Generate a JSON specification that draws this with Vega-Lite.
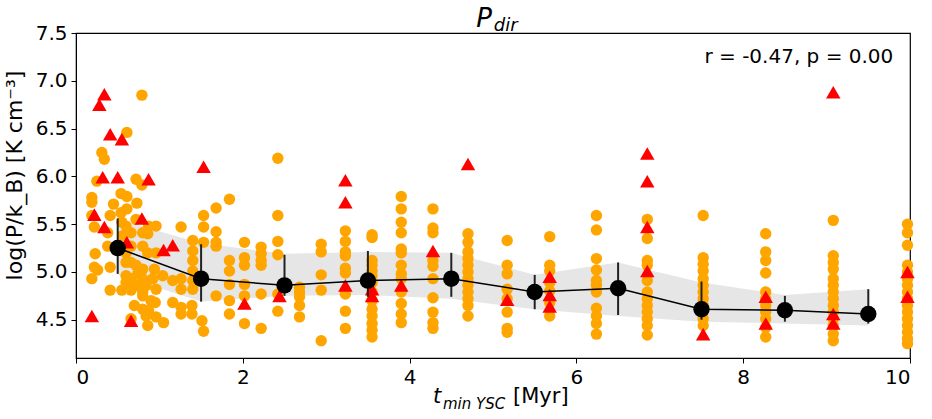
{
  "$schema": "https://vega.github.io/schema/vega-lite/v6.json",
  "width": 834,
  "height": 325,
  "autosize": {"type": "none"},
  "padding": {"left": 76, "top": 33, "right": 22, "bottom": 61},
  "background": "white",
  "config": {
    "font": "DejaVu Sans",
    "view": {"stroke": "black", "strokeWidth": 1.2},
    "axis": {"grid": false, "domainColor": "black", "tickColor": "black", "tickSize": 5, "labelFontSize": 20, "titleFontSize": 21, "labelColor": "black", "titleColor": "black", "titleFontWeight": "normal", "labelPadding": 4, "labelFont": "DejaVu Sans", "titleFont": "DejaVu Sans"}
  },
  "datasets": {
    "pts": [
      {"x":0.79,"y":6.85,"t":"c"},{"x":0.61,"y":6.46,"t":"c"},{"x":0.31,"y":6.25,"t":"c"},{"x":0.34,"y":6.18,"t":"c"},
      {"x":0.25,"y":5.95,"t":"c"},{"x":0.72,"y":5.97,"t":"c"},{"x":0.79,"y":5.91,"t":"c"},{"x":0.19,"y":5.78,"t":"c"},
      {"x":0.19,"y":5.73,"t":"c"},{"x":0.19,"y":5.59,"t":"c"},{"x":0.54,"y":5.82,"t":"c"},{"x":0.61,"y":5.79,"t":"c"},
      {"x":0.45,"y":5.71,"t":"c"},{"x":0.73,"y":5.72,"t":"c"},{"x":0.54,"y":5.62,"t":"c"},{"x":0.61,"y":5.66,"t":"c"},
      {"x":0.41,"y":5.59,"t":"c"},{"x":0.22,"y":5.47,"t":"c"},{"x":0.38,"y":5.41,"t":"c"},{"x":0.55,"y":5.52,"t":"c"},
      {"x":0.60,"y":5.48,"t":"c"},{"x":0.72,"y":5.55,"t":"c"},{"x":0.87,"y":5.48,"t":"c"},{"x":0.96,"y":5.48,"t":"c"},
      {"x":0.38,"y":5.27,"t":"c"},{"x":0.23,"y":5.19,"t":"c"},{"x":0.22,"y":5.05,"t":"c"},{"x":0.26,"y":5.02,"t":"c"},
      {"x":0.19,"y":4.93,"t":"c"},{"x":0.41,"y":5.05,"t":"c"},{"x":0.41,"y":4.81,"t":"c"},{"x":0.55,"y":4.81,"t":"c"},
      {"x":0.66,"y":5.41,"t":"c"},{"x":0.80,"y":5.41,"t":"c"},{"x":0.86,"y":5.40,"t":"c"},{"x":0.66,"y":5.27,"t":"c"},
      {"x":0.80,"y":5.27,"t":"c"},{"x":0.86,"y":5.20,"t":"c"},{"x":0.96,"y":5.20,"t":"c"},{"x":0.66,"y":5.10,"t":"c"},
      {"x":0.72,"y":5.07,"t":"c"},{"x":0.80,"y":5.03,"t":"c"},{"x":0.94,"y":5.03,"t":"c"},{"x":0.60,"y":4.96,"t":"c"},
      {"x":0.66,"y":4.93,"t":"c"},{"x":0.80,"y":4.93,"t":"c"},{"x":0.92,"y":4.93,"t":"c"},{"x":1.04,"y":4.96,"t":"c"},
      {"x":0.60,"y":4.89,"t":"c"},{"x":0.72,"y":4.86,"t":"c"},{"x":0.84,"y":4.86,"t":"c"},{"x":0.96,"y":4.82,"t":"c"},
      {"x":0.66,"y":4.81,"t":"c"},{"x":0.80,"y":4.79,"t":"c"},{"x":0.80,"y":4.75,"t":"c"},{"x":1.16,"y":4.91,"t":"c"},
      {"x":1.26,"y":4.93,"t":"c"},{"x":1.26,"y":4.82,"t":"c"},{"x":0.95,"y":4.68,"t":"c"},{"x":1.16,"y":4.68,"t":"c"},
      {"x":0.80,"y":4.61,"t":"c"},{"x":0.87,"y":4.60,"t":"c"},{"x":0.84,"y":4.54,"t":"c"},{"x":0.96,"y":4.53,"t":"c"},
      {"x":0.86,"y":4.44,"t":"c"},{"x":1.05,"y":4.47,"t":"c"},{"x":0.66,"y":4.51,"t":"c"},{"x":1.26,"y":4.63,"t":"c"},
      {"x":1.26,"y":4.56,"t":"c"},{"x":1.39,"y":4.65,"t":"c"},{"x":1.39,"y":4.56,"t":"c"},{"x":1.51,"y":4.49,"t":"c"},
      {"x":1.53,"y":4.38,"t":"c"},{"x":1.40,"y":5.33,"t":"c"},{"x":1.40,"y":5.22,"t":"c"},{"x":1.40,"y":5.12,"t":"c"},
      {"x":1.40,"y":5.01,"t":"c"},{"x":1.40,"y":4.91,"t":"c"},{"x":1.40,"y":4.82,"t":"c"},{"x":1.26,"y":5.47,"t":"c"},
      {"x":1.53,"y":5.59,"t":"c"},{"x":1.53,"y":5.47,"t":"c"},{"x":1.53,"y":5.31,"t":"c"},{"x":1.68,"y":5.67,"t":"c"},
      {"x":1.84,"y":5.76,"t":"c"},{"x":1.68,"y":5.42,"t":"c"},{"x":1.68,"y":5.31,"t":"c"},{"x":1.68,"y":5.27,"t":"c"},
      {"x":1.68,"y":4.75,"t":"c"},{"x":1.84,"y":5.12,"t":"c"},{"x":1.84,"y":5.01,"t":"c"},{"x":1.84,"y":4.87,"t":"c"},
      {"x":1.84,"y":4.70,"t":"c"},{"x":1.84,"y":4.56,"t":"c"},{"x":2.02,"y":5.31,"t":"c"},{"x":2.02,"y":5.15,"t":"c"},
      {"x":2.02,"y":5.07,"t":"c"},{"x":2.02,"y":4.87,"t":"c"},{"x":2.02,"y":4.75,"t":"c"},{"x":2.02,"y":4.46,"t":"c"},
      {"x":2.22,"y":5.26,"t":"c"},{"x":2.22,"y":5.19,"t":"c"},{"x":2.22,"y":5.12,"t":"c"},{"x":2.22,"y":5.07,"t":"c"},
      {"x":2.22,"y":4.77,"t":"c"},{"x":2.22,"y":4.41,"t":"c"},{"x":0.56,"y":5.38,"t":"c"},{"x":0.60,"y":5.10,"t":"c"},
      {"x":0.60,"y":5.20,"t":"c"},{"x":0.70,"y":4.65,"t":"c"},{"x":0.74,"y":4.98,"t":"c"},{"x":0.90,"y":4.70,"t":"c"},
      {"x":2.42,"y":6.19,"t":"c"},{"x":2.42,"y":5.59,"t":"c"},{"x":2.42,"y":5.32,"t":"c"},{"x":2.42,"y":5.18,"t":"c"},
      {"x":2.42,"y":4.77,"t":"c"},{"x":2.42,"y":4.59,"t":"c"},
      {"x":2.68,"y":4.84,"t":"c"},{"x":2.68,"y":4.79,"t":"c"},{"x":2.68,"y":4.74,"t":"c"},{"x":2.68,"y":4.65,"t":"c"},{"x":2.68,"y":4.53,"t":"c"},
      {"x":2.94,"y":5.29,"t":"c"},{"x":2.94,"y":5.21,"t":"c"},{"x":2.94,"y":4.97,"t":"c"},{"x":2.94,"y":4.81,"t":"c"},{"x":2.94,"y":4.28,"t":"c"},
      {"x":3.23,"y":5.43,"t":"c"},{"x":3.23,"y":5.32,"t":"c"},{"x":3.23,"y":5.21,"t":"c"},{"x":3.23,"y":5.17,"t":"c"},{"x":3.23,"y":5.04,"t":"c"},
      {"x":3.23,"y":4.99,"t":"c"},{"x":3.23,"y":4.77,"t":"c"},{"x":3.23,"y":4.59,"t":"c"},{"x":3.23,"y":4.41,"t":"c"},
      {"x":3.55,"y":5.39,"t":"c"},{"x":3.55,"y":5.36,"t":"c"},{"x":3.55,"y":5.12,"t":"c"},{"x":3.55,"y":5.07,"t":"c"},{"x":3.55,"y":5.01,"t":"c"},
      {"x":3.55,"y":4.96,"t":"c"},{"x":3.55,"y":4.89,"t":"c"},{"x":3.55,"y":4.79,"t":"c"},{"x":3.55,"y":4.70,"t":"c"},{"x":3.55,"y":4.61,"t":"c"},
      {"x":3.55,"y":4.54,"t":"c"},{"x":3.55,"y":4.46,"t":"c"},{"x":3.55,"y":4.39,"t":"c"},{"x":3.55,"y":4.32,"t":"c"},
      {"x":3.90,"y":5.79,"t":"c"},{"x":3.90,"y":5.66,"t":"c"},{"x":3.90,"y":5.52,"t":"c"},{"x":3.90,"y":5.41,"t":"c"},{"x":3.90,"y":5.24,"t":"c"},
      {"x":3.90,"y":5.20,"t":"c"},{"x":3.90,"y":5.07,"t":"c"},{"x":3.90,"y":4.98,"t":"c"},{"x":3.90,"y":4.93,"t":"c"},{"x":3.90,"y":4.79,"t":"c"},
      {"x":3.90,"y":4.67,"t":"c"},{"x":3.90,"y":4.56,"t":"c"},{"x":3.90,"y":4.47,"t":"c"},
      {"x":4.28,"y":5.66,"t":"c"},{"x":4.28,"y":5.46,"t":"c"},{"x":4.28,"y":5.41,"t":"c"},{"x":4.28,"y":5.12,"t":"c"},{"x":4.28,"y":5.06,"t":"c"},
      {"x":4.28,"y":4.93,"t":"c"},{"x":4.28,"y":4.73,"t":"c"},{"x":4.28,"y":4.58,"t":"c"},{"x":4.28,"y":4.47,"t":"c"},{"x":4.28,"y":4.41,"t":"c"},
      {"x":4.70,"y":5.40,"t":"c"},{"x":4.70,"y":5.31,"t":"c"},{"x":4.70,"y":5.21,"t":"c"},{"x":4.70,"y":5.14,"t":"c"},{"x":4.70,"y":5.07,"t":"c"},
      {"x":4.70,"y":5.00,"t":"c"},{"x":4.70,"y":4.93,"t":"c"},{"x":4.70,"y":4.86,"t":"c"},{"x":4.70,"y":4.79,"t":"c"},{"x":4.70,"y":4.72,"t":"c"},
      {"x":4.70,"y":4.65,"t":"c"},{"x":4.70,"y":4.54,"t":"c"},
      {"x":5.17,"y":5.33,"t":"c"},{"x":5.17,"y":5.07,"t":"c"},{"x":5.17,"y":4.98,"t":"c"},{"x":5.17,"y":4.82,"t":"c"},{"x":5.17,"y":4.72,"t":"c"},
      {"x":5.17,"y":4.58,"t":"c"},{"x":5.17,"y":4.41,"t":"c"},{"x":5.17,"y":4.37,"t":"c"},
      {"x":5.68,"y":5.37,"t":"c"},{"x":5.68,"y":5.07,"t":"c"},{"x":5.68,"y":5.01,"t":"c"},{"x":5.68,"y":4.89,"t":"c"},{"x":5.68,"y":4.80,"t":"c"},
      {"x":5.68,"y":4.68,"t":"c"},{"x":5.68,"y":4.54,"t":"c"},
      {"x":6.24,"y":5.59,"t":"c"},{"x":6.24,"y":5.44,"t":"c"},{"x":6.24,"y":5.14,"t":"c"},{"x":6.24,"y":5.02,"t":"c"},{"x":6.24,"y":4.91,"t":"c"},
      {"x":6.24,"y":4.86,"t":"c"},{"x":6.24,"y":4.79,"t":"c"},{"x":6.24,"y":4.62,"t":"c"},{"x":6.24,"y":4.54,"t":"c"},{"x":6.24,"y":4.46,"t":"c"},
      {"x":6.24,"y":4.35,"t":"c"},
      {"x":6.85,"y":5.55,"t":"c"},{"x":6.85,"y":5.35,"t":"c"},{"x":6.85,"y":5.12,"t":"c"},{"x":6.85,"y":5.07,"t":"c"},{"x":6.85,"y":4.91,"t":"c"},
      {"x":6.85,"y":4.79,"t":"c"},{"x":6.85,"y":4.72,"t":"c"},{"x":6.85,"y":4.65,"t":"c"},{"x":6.85,"y":4.58,"t":"c"},{"x":6.85,"y":4.51,"t":"c"},
      {"x":6.85,"y":4.44,"t":"c"},{"x":6.85,"y":4.34,"t":"c"},
      {"x":7.52,"y":5.59,"t":"c"},{"x":7.52,"y":5.15,"t":"c"},{"x":7.52,"y":5.08,"t":"c"},{"x":7.52,"y":5.01,"t":"c"},{"x":7.52,"y":4.93,"t":"c"},
      {"x":7.52,"y":4.86,"t":"c"},{"x":7.52,"y":4.79,"t":"c"},{"x":7.52,"y":4.72,"t":"c"},{"x":7.52,"y":4.65,"t":"c"},{"x":7.52,"y":4.58,"t":"c"},
      {"x":7.52,"y":4.51,"t":"c"},{"x":7.52,"y":4.44,"t":"c"},
      {"x":8.27,"y":5.40,"t":"c"},{"x":8.27,"y":5.21,"t":"c"},{"x":8.27,"y":5.12,"t":"c"},{"x":8.27,"y":4.99,"t":"c"},{"x":8.27,"y":4.79,"t":"c"},
      {"x":8.27,"y":4.72,"t":"c"},{"x":8.27,"y":4.65,"t":"c"},{"x":8.27,"y":4.58,"t":"c"},{"x":8.27,"y":4.51,"t":"c"},{"x":8.27,"y":4.42,"t":"c"},
      {"x":8.27,"y":4.32,"t":"c"},
      {"x":9.08,"y":5.54,"t":"c"},{"x":9.08,"y":5.17,"t":"c"},{"x":9.08,"y":5.10,"t":"c"},{"x":9.08,"y":5.03,"t":"c"},{"x":9.08,"y":4.93,"t":"c"},
      {"x":9.08,"y":4.86,"t":"c"},{"x":9.08,"y":4.79,"t":"c"},{"x":9.08,"y":4.72,"t":"c"},{"x":9.08,"y":4.65,"t":"c"},{"x":9.08,"y":4.58,"t":"c"},
      {"x":9.08,"y":4.51,"t":"c"},{"x":9.08,"y":4.44,"t":"c"},{"x":9.08,"y":4.35,"t":"c"},{"x":9.08,"y":4.28,"t":"c"},
      {"x":9.97,"y":5.50,"t":"c"},{"x":9.97,"y":5.41,"t":"c"},{"x":9.97,"y":5.28,"t":"c"},{"x":9.97,"y":5.07,"t":"c"},{"x":9.97,"y":5.00,"t":"c"},
      {"x":9.97,"y":4.93,"t":"c"},{"x":9.97,"y":4.86,"t":"c"},{"x":9.97,"y":4.79,"t":"c"},{"x":9.97,"y":4.72,"t":"c"},{"x":9.97,"y":4.65,"t":"c"},
      {"x":9.97,"y":4.58,"t":"c"},{"x":9.97,"y":4.51,"t":"c"},{"x":9.97,"y":4.44,"t":"c"},{"x":9.97,"y":4.37,"t":"c"},{"x":9.97,"y":4.30,"t":"c"},
      {"x":9.97,"y":4.25,"t":"c"},
      {"x":0.22,"y":5.60,"t":"t"},{"x":0.34,"y":5.47,"t":"t"},{"x":0.19,"y":4.54,"t":"t"},{"x":0.34,"y":6.86,"t":"t"},
      {"x":0.28,"y":6.75,"t":"t"},{"x":0.41,"y":6.44,"t":"t"},{"x":0.55,"y":6.39,"t":"t"},{"x":0.32,"y":5.99,"t":"t"},
      {"x":0.50,"y":5.99,"t":"t"},{"x":0.87,"y":5.97,"t":"t"},{"x":0.79,"y":5.56,"t":"t"},{"x":0.61,"y":5.31,"t":"t"},
      {"x":1.05,"y":5.23,"t":"t"},{"x":1.16,"y":5.28,"t":"t"},{"x":0.66,"y":4.49,"t":"t"},{"x":1.53,"y":6.10,"t":"t"},
      {"x":2.02,"y":4.67,"t":"t"},{"x":2.44,"y":4.75,"t":"t"},{"x":3.23,"y":5.96,"t":"t"},{"x":3.23,"y":5.73,"t":"t"},
      {"x":3.23,"y":4.86,"t":"t"},{"x":3.55,"y":4.82,"t":"t"},{"x":3.55,"y":4.75,"t":"t"},{"x":3.90,"y":4.86,"t":"t"},
      {"x":4.28,"y":5.22,"t":"t"},{"x":4.70,"y":6.13,"t":"t"},{"x":5.17,"y":4.71,"t":"t"},{"x":5.68,"y":4.95,"t":"t"},
      {"x":5.68,"y":4.76,"t":"t"},{"x":5.68,"y":4.64,"t":"t"},{"x":6.85,"y":6.24,"t":"t"},{"x":6.85,"y":5.95,"t":"t"},
      {"x":6.85,"y":5.47,"t":"t"},{"x":6.85,"y":5.01,"t":"t"},{"x":7.52,"y":4.35,"t":"t"},{"x":8.27,"y":4.74,"t":"t"},
      {"x":8.27,"y":4.46,"t":"t"},{"x":9.08,"y":6.88,"t":"t"},{"x":9.08,"y":4.56,"t":"t"},{"x":9.08,"y":4.46,"t":"t"},
      {"x":9.97,"y":5.00,"t":"t"},{"x":9.97,"y":4.74,"t":"t"}
    ],
    "bins": [
      {"x":0.5,"m":5.25,"lo":4.98,"hi":5.56,"blo":4.97,"bhi":5.55},
      {"x":1.5,"m":4.93,"lo":4.69,"hi":5.29,"blo":4.69,"bhi":5.30},
      {"x":2.5,"m":4.86,"lo":4.75,"hi":5.18,"blo":4.75,"bhi":5.19},
      {"x":3.5,"m":4.91,"lo":4.74,"hi":5.22,"blo":4.76,"bhi":5.21},
      {"x":4.5,"m":4.93,"lo":4.74,"hi":5.20,"blo":4.72,"bhi":5.20},
      {"x":5.5,"m":4.79,"lo":4.61,"hi":4.97,"blo":4.61,"bhi":4.97},
      {"x":6.5,"m":4.83,"lo":4.55,"hi":5.10,"blo":4.54,"bhi":5.10},
      {"x":7.5,"m":4.61,"lo":4.50,"hi":4.90,"blo":4.48,"bhi":4.89},
      {"x":8.5,"m":4.60,"lo":4.48,"hi":4.75,"blo":4.46,"bhi":4.76},
      {"x":9.5,"m":4.56,"lo":4.46,"hi":4.82,"blo":4.44,"bhi":4.82}
    ],
    "labels": [
      {"x":4.80,"y":7.5625,"txt":"P","k":"big"},
      {"x":5.01,"y":7.52,"txt":"dir","k":"sub"},
      {"x":4.28,"y":3.625,"txt":"t","k":"xt"},
      {"x":4.40,"y":3.57,"txt":"min YSC","k":"xsub"},
      {"x":5.24,"y":3.625,"txt":"[Myr]","k":"xu"},
      {"x":9.80,"y":7.19,"txt":"r = -0.47, p = 0.00","k":"ann"}
    ]
  },
  "layer": [
    {
      "data": {"name": "bins"},
      "mark": {"type": "area", "color": "#808080", "opacity": 0.2},
      "encoding": {
        "x": {"field": "x", "type": "quantitative", "scale": {"domain": [0, 10], "nice": false}, "axis": {"values": [0, 2, 4, 6, 8, 10], "format": "d", "title": null}},
        "y": {"field": "blo", "type": "quantitative", "scale": {"domain": [4.1, 7.5], "nice": false, "zero": false}, "axis": {"values": [4.5, 5.0, 5.5, 6.0, 6.5, 7.0, 7.5], "format": ".1f", "title": "log(P/k_B) [K cm⁻³]", "titlePadding": 9, "titleFontSize": 22, "titleY": 142}},
        "y2": {"field": "bhi"}
      }
    },
    {
      "data": {"name": "pts"},
      "transform": [{"filter": "datum.t === 'c'"}],
      "mark": {"type": "point", "shape": "circle", "filled": true, "color": "#FFA500", "opacity": 1, "size": 130},
      "encoding": {
        "x": {"field": "x", "type": "quantitative"},
        "y": {"field": "y", "type": "quantitative"}
      }
    },
    {
      "data": {"name": "pts"},
      "transform": [{"filter": "datum.t === 't'"}],
      "mark": {"type": "point", "shape": "triangle-up", "filled": true, "color": "#FF0000", "opacity": 1, "size": 210},
      "encoding": {
        "x": {"field": "x", "type": "quantitative"},
        "y": {"field": "y", "type": "quantitative"}
      }
    },
    {
      "data": {"name": "bins"},
      "mark": {"type": "line", "color": "black", "strokeWidth": 1.5},
      "encoding": {
        "x": {"field": "x", "type": "quantitative"},
        "y": {"field": "m", "type": "quantitative"}
      }
    },
    {
      "data": {"name": "bins"},
      "mark": {"type": "rule", "color": "#222222", "strokeWidth": 2},
      "encoding": {
        "x": {"field": "x", "type": "quantitative"},
        "y": {"field": "lo", "type": "quantitative"},
        "y2": {"field": "hi"}
      }
    },
    {
      "data": {"name": "bins"},
      "mark": {"type": "point", "shape": "circle", "filled": true, "color": "black", "opacity": 1, "size": 270},
      "encoding": {
        "x": {"field": "x", "type": "quantitative"},
        "y": {"field": "m", "type": "quantitative"}
      }
    },
    {
      "data": {"name": "labels"},
      "transform": [{"filter": "datum.k === 'big'"}],
      "mark": {"type": "text", "align": "left", "baseline": "alphabetic", "fontSize": 26, "fontStyle": "italic", "color": "black"},
      "encoding": {"x": {"field": "x", "type": "quantitative"}, "y": {"field": "y", "type": "quantitative"}, "text": {"field": "txt"}}
    },
    {
      "data": {"name": "labels"},
      "transform": [{"filter": "datum.k === 'sub'"}],
      "mark": {"type": "text", "align": "left", "baseline": "alphabetic", "fontSize": 18, "fontStyle": "italic", "color": "black"},
      "encoding": {"x": {"field": "x", "type": "quantitative"}, "y": {"field": "y", "type": "quantitative"}, "text": {"field": "txt"}}
    },
    {
      "data": {"name": "labels"},
      "transform": [{"filter": "datum.k === 'xt'"}],
      "mark": {"type": "text", "align": "left", "baseline": "alphabetic", "fontSize": 21, "fontStyle": "italic", "color": "black"},
      "encoding": {"x": {"field": "x", "type": "quantitative"}, "y": {"field": "y", "type": "quantitative"}, "text": {"field": "txt"}}
    },
    {
      "data": {"name": "labels"},
      "transform": [{"filter": "datum.k === 'xsub'"}],
      "mark": {"type": "text", "align": "left", "baseline": "alphabetic", "fontSize": 15, "fontStyle": "italic", "color": "black"},
      "encoding": {"x": {"field": "x", "type": "quantitative"}, "y": {"field": "y", "type": "quantitative"}, "text": {"field": "txt"}}
    },
    {
      "data": {"name": "labels"},
      "transform": [{"filter": "datum.k === 'xu'"}],
      "mark": {"type": "text", "align": "left", "baseline": "alphabetic", "fontSize": 21, "color": "black"},
      "encoding": {"x": {"field": "x", "type": "quantitative"}, "y": {"field": "y", "type": "quantitative"}, "text": {"field": "txt"}}
    },
    {
      "data": {"name": "labels"},
      "transform": [{"filter": "datum.k === 'ann'"}],
      "mark": {"type": "text", "align": "right", "baseline": "alphabetic", "fontSize": 20, "color": "black"},
      "encoding": {"x": {"field": "x", "type": "quantitative"}, "y": {"field": "y", "type": "quantitative"}, "text": {"field": "txt"}}
    }
  ]
}
